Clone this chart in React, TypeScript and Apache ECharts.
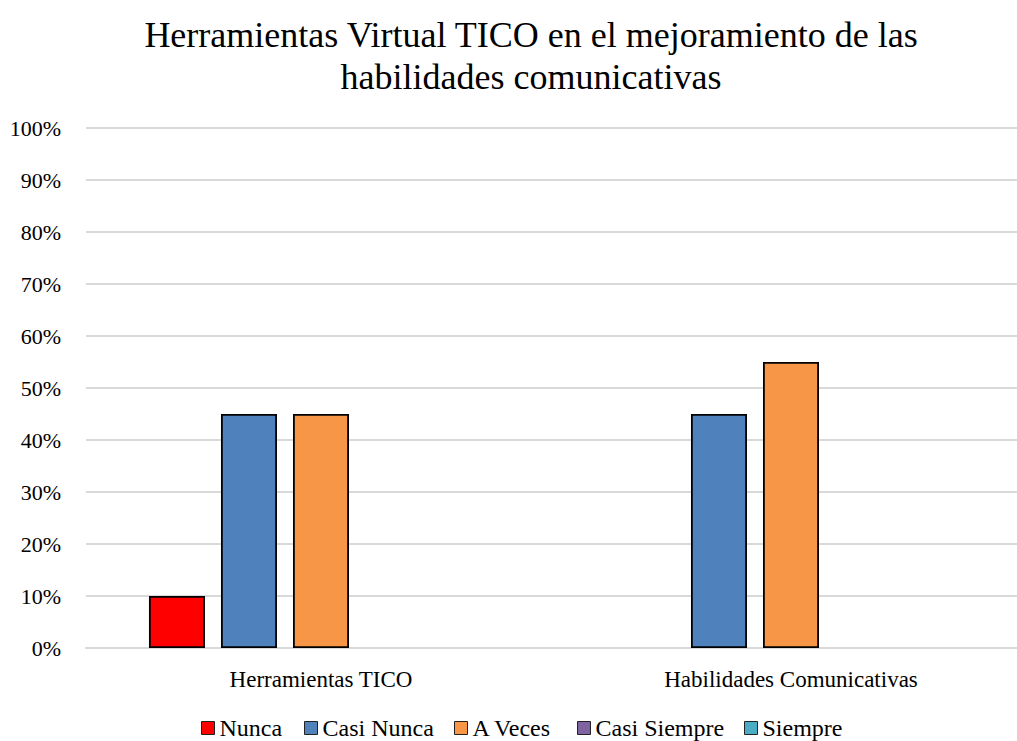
import React, { useEffect, useRef } from "react";
import * as echarts from "echarts";

const categories = ["Herramientas TICO", "Habilidades Comunicativas"];
const seriesNames = ["Nunca", "Casi Nunca", "A Veces", "Casi Siempre", "Siempre"];
const nunca = [10, 0];
const casiNunca = [45, 45];
const aVeces = [45, 55];
const casiSiempre = [0, 0];
const siempre = [0, 0];
const seriesValues = [nunca, casiNunca, aVeces, casiSiempre, siempre];
const colors = ["#ff0000", "#4f81bd", "#f79646", "#8064a2", "#4bacc6"];
const titleText = "Herramientas Virtual TICO en el mejoramiento de las\nhabilidades comunicativas";

const FONT = "'Liberation Serif', 'Times New Roman', serif";
const legendLefts = [201, 304, 454, 577, 744];

export default function App() {
  const ref = useRef<HTMLDivElement>(null);
  useEffect(() => {
    if (!ref.current) return;
    const chart = echarts.init(ref.current, undefined, { renderer: "svg" });
    chart.setOption({
      animation: false,
      backgroundColor: "#ffffff",
      title: {
        text: titleText,
        left: 526,
        top: 9,
        textAlign: "center",
        textStyle: {
          fontFamily: FONT,
          fontSize: 36,
          fontWeight: "normal",
          color: "#000000",
          lineHeight: 42,
        },
      },
      legend: seriesNames.map((name, i) => ({
        data: [name],
        left: legendLefts[i] - 5,
        top: 711,
        icon: "rect",
        itemWidth: 13,
        itemHeight: 13,
        itemStyle: { borderColor: "#222222", borderWidth: 1 },
        textStyle: {
          fontFamily: FONT,
          fontSize: 24,
          color: "#000000",
        },
      })),
      grid: {
        left: 86,
        right: 0,
        top: 128,
        bottom: 93,
        containLabel: false,
      },
      xAxis: {
        type: "category",
        data: categories,
        axisLine: { show: true, lineStyle: { color: "#d9d9d9", width: 2 } },
        axisTick: { show: false },
        axisLabel: {
          fontFamily: FONT,
          fontSize: 23,
          color: "#000000",
          margin: 20,
        },
      },
      yAxis: {
        type: "value",
        min: 0,
        max: 100,
        interval: 10,
        axisLine: { show: false },
        axisTick: { show: false },
        splitLine: { lineStyle: { color: "#d9d9d9", width: 2 } },
        axisLabel: {
          fontFamily: FONT,
          fontSize: 22,
          color: "#000000",
          margin: 25,
          formatter: (v: number) => v + "%",
        },
      },
      series: seriesNames.map((name, i) => ({
        name,
        type: "bar",
        barWidth: 56,
        barGap: "28.6%",
        itemStyle: { color: colors[i], borderColor: "#000000", borderWidth: 1.8 },
        data: seriesValues[i].map((v) =>
          v === 0 ? { value: v, itemStyle: { borderWidth: 0 } } : v
        ),
      })),
    });
    return () => chart.dispose();
  }, []);
  return (
    <div style={{ position: "fixed", left: 0, top: 0, width: 1017, height: 741, overflow: "hidden" }}>
      <div ref={ref} style={{ width: 1026, height: 741 }} />
    </div>
  );
}
